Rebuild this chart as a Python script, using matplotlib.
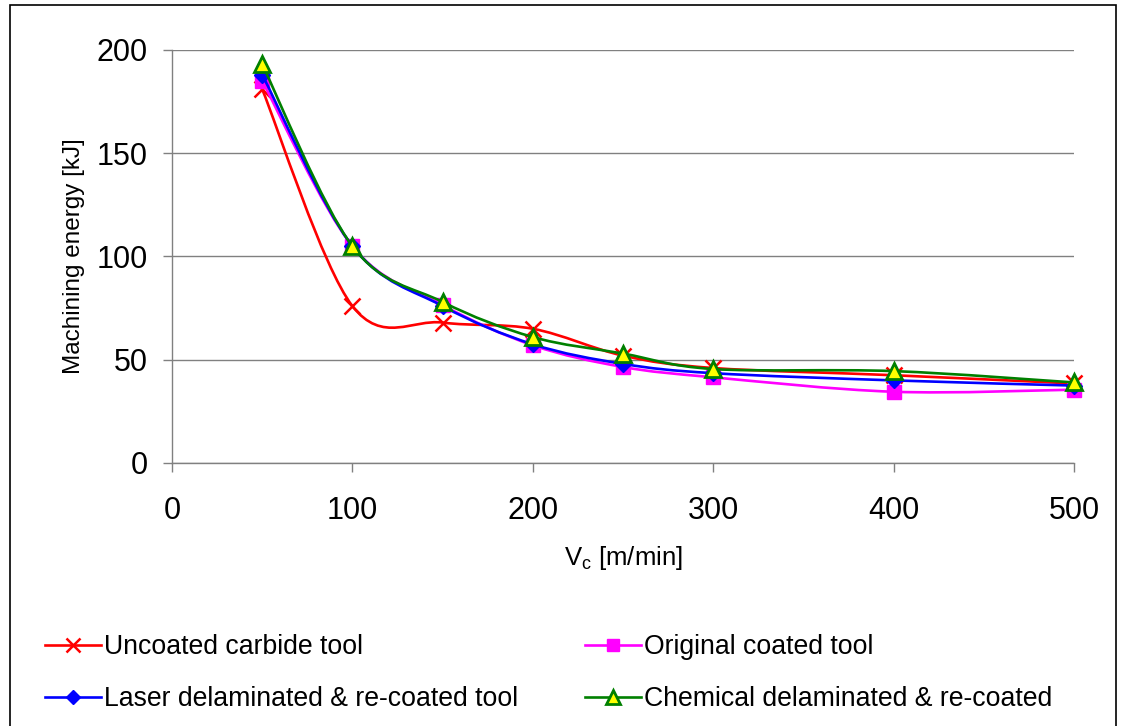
import matplotlib
matplotlib.use("Agg")
import matplotlib.pyplot as plt
import numpy as np
from matplotlib.path import Path
from matplotlib.patches import PathPatch, Rectangle
from matplotlib.lines import Line2D

plt.rcParams['font.family'] = ['Liberation Sans', 'DejaVu Sans']
plt.rcParams['mathtext.fontset'] = 'custom'
plt.rcParams['mathtext.rm'] = 'Liberation Sans'

# ---- data ----
vc = [50, 100, 150, 200, 250, 300, 400, 500]
uncoated = [181, 76, 68, 65, 52, 46, 42.5, 38.5]
original = [185, 105, 76.5, 57, 46.5, 41.5, 34.5, 35.5]
laser = [188, 105, 76, 57.5, 48, 43.5, 40, 37.5]
chemical = [193, 105, 78, 61, 53, 45.5, 44.5, 39]
labels = ["Uncoated carbide tool", "Original coated tool",
          "Laser delaminated & re-coated tool", "Chemical delaminated & re-coated"]
xticks = [0, 100, 200, 300, 400, 500]
yticks = [0, 50, 100, 150, 200]

W, H = 1125, 726
fig = plt.figure(figsize=(W / 100, H / 100), dpi=100)
fig.patch.set_facecolor('white')
ax = fig.add_axes([172 / W, 1 - 463 / H, (1074 - 172) / W, (463 - 50) / H])


def smooth_path(x, y):
    pts = np.column_stack([x, y]).astype(float)
    n = len(pts)
    verts = [pts[0]]
    codes = [Path.MOVETO]
    for i in range(n - 1):
        p0 = pts[i - 1] if i > 0 else pts[i]
        p1 = pts[i]
        p2 = pts[i + 1]
        p3 = pts[i + 2] if i + 2 < n else pts[i + 1]
        c1 = p1 + (p2 - p0) / 6.0
        c2 = p2 - (p3 - p1) / 6.0
        verts += [c1, c2, p2]
        codes += [Path.CURVE4] * 3
    return Path(verts, codes)


styles = [
    dict(color='#FF0000', marker='x', ms=11.5, mfc='#FF0000', mec='#FF0000', mew=1.8),
    dict(color='#FF00FF', marker='s', ms=10, mfc='#FF00FF', mec='#FF00FF', mew=1),
    dict(color='#0000FF', marker='D', ms=8.5, mfc='#0000FF', mec='#0000FF', mew=1),
    dict(color='#008000', marker='^', ms=12, mfc='#FFFF00', mec='#008000', mew=2),
]
series = [uncoated, original, laser, chemical]
handles = []
for k, (ys, st) in enumerate(zip(series, styles)):
    p = PathPatch(smooth_path(vc, ys), fill=False, edgecolor=st['color'], lw=1.9,
                  zorder=3 + k, capstyle='round', joinstyle='round')
    ax.add_patch(p)
    ax.plot(vc, ys, ls='none', marker=st['marker'], ms=st['ms'], mfc=st['mfc'],
            mec=st['mec'], mew=st['mew'], zorder=3.5 + k, clip_on=False)
    handles.append(Line2D([], [], color=st['color'], lw=1.9, marker=st['marker'],
                          ms=st['ms'] * 0.85, mfc=st['mfc'], mec=st['mec'], mew=st['mew']))

ax.set_xlim(0, 500)
ax.set_ylim(0, 200)
ax.set_xticks(xticks)
ax.set_yticks(yticks)
ax.tick_params(axis='both', direction='out', length=6.5, width=1, colors='#808080',
               labelcolor='black', labelsize=22)
ax.tick_params(axis='y', pad=11)
ax.tick_params(axis='x', pad=17)
ax.yaxis.grid(True, color='#808080', lw=1)
ax.set_axisbelow(True)
for s in ['top', 'right']:
    ax.spines[s].set_visible(False)
for s in ['left', 'bottom']:
    ax.spines[s].set_color('#808080')
    ax.spines[s].set_linewidth(1)

ax.set_ylabel('Machining energy [kJ]', fontsize=17.5, labelpad=8)
ax.set_xlabel(r'V$_\mathregular{c}$ [m/min]', fontsize=18.5, labelpad=13)

order = [0, 2, 1, 3]
fig.legend([handles[i] for i in order], [labels[i] for i in order],
           loc='upper left', bbox_to_anchor=(45 / W, 1 - 634 / H),
           ncol=2, frameon=False, fontsize=19.2, handlelength=2.1, handletextpad=0.12,
           columnspacing=2.5, labelspacing=0.97, borderpad=0, borderaxespad=0)

fig.patches.append(Rectangle((10 / W, -0.05), (1116 - 10) / W, 1.05 - 5 / H,
                             transform=fig.transFigure, fill=False, edgecolor='black',
                             lw=1.2))

fig.savefig('out.png', dpi=100)
